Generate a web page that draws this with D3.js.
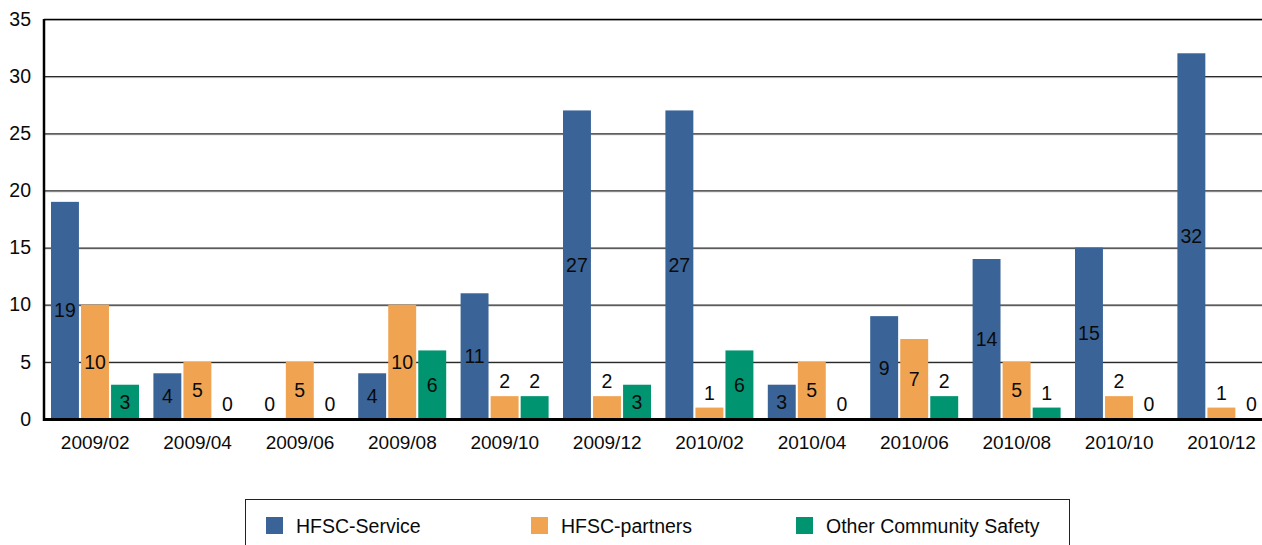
<!DOCTYPE html>
<html>
<head>
<meta charset="utf-8">
<script src="https://cdn.jsdelivr.net/npm/d3@7"></script>
<style>
  body { margin: 0; background: #fff; }
  svg text { font-family: "Liberation Sans", Arial, sans-serif; fill: #0a0a0a; }
</style>
</head>
<body>
<svg id="chart" width="1262" height="545"></svg>
<script>
'use strict'

// data
const months = ['2009/02','2009/04','2009/06','2009/08','2009/10','2009/12','2010/02','2010/04','2010/06','2010/08','2010/10','2010/12']
const seriesNames = ['HFSC-Service','HFSC-partners','Other Community Safety']
const service = [19, 4, 0, 4, 11, 27, 27, 3, 9, 14, 15, 32]
const partners = [10, 5, 5, 10, 2, 2, 1, 5, 7, 5, 2, 1]
const otherSafety = [3, 0, 0, 6, 2, 3, 6, 0, 2, 1, 0, 0]
const yTicks = [0, 5, 10, 15, 20, 25, 30, 35]
const colors = ['#3a6497', '#f0a452', '#009570']

function draw(){
	let svg = d3.select('#chart')
	let left = 44, right = 44 + 12 * 102.4
	let top = 19, bottom = 419
	let fs = '19.5px'

	let x = d3.scaleBand().domain(months).range([left, right]).paddingInner(0).paddingOuter(0)
	let xs = d3.scaleBand().domain(seriesNames).range([7, 95]).paddingInner(0.07)
	let y = d3.scaleLinear().domain([0, 35]).range([bottom, top])

	let rows = months.map((m, i) => ({month: m, vals: [service[i], partners[i], otherSafety[i]]}))

	// gridlines (with the faint shadow line under each)
	let grid = svg.append('g')
	grid.selectAll('line.shadow')
		.data(yTicks.filter(d => d > 0))
		.join('line')
		.attr('x1', left).attr('x2', 1262)
		.attr('y1', d => y(d) + 1.5).attr('y2', d => y(d) + 1.5)
		.attr('stroke', '#d0d0d0').attr('stroke-width', 1)
	grid.selectAll('line.main')
		.data(yTicks.filter(d => d > 0))
		.join('line')
		.attr('x1', left).attr('x2', 1262)
		.attr('y1', d => y(d) + 0.5).attr('y2', d => y(d) + 0.5)
		.attr('stroke', d => d == 35 ? '#000' : '#2a2a2a').attr('stroke-width', d => d == 35 ? 1.5 : 1.2)

	// bars
	let groups = svg.append('g').selectAll('g')
		.data(rows)
		.join('g')
		.attr('transform', d => `translate(${x(d.month)},0)`)

	groups.selectAll('rect')
		.data(d => d.vals.map((v, k) => ({v, k})))
		.join('rect')
		.attr('x', d => xs(seriesNames[d.k]))
		.attr('width', xs.bandwidth())
		.attr('y', d => y(d.v))
		.attr('height', d => bottom - y(d.v))
		.attr('fill', d => colors[d.k])

	groups.selectAll('text')
		.data(d => d.vals.map((v, k) => ({v, k})))
		.join('text')
		.attr('x', d => xs(seriesNames[d.k]) + xs.bandwidth() / 2)
		.attr('y', d => {
			let h = bottom - y(d.v)
			return h > 28 ? y(d.v) + h / 2 : y(d.v) - 15
		})
		.attr('dy', '0.36em')
		.attr('text-anchor', 'middle')
		.style('font-size', fs)
		.text(d => d.v)

	// axes
	let yAxis = d3.axisLeft(y).tickValues(yTicks).tickSize(0).tickPadding(13)
	let ga = svg.append('g').attr('transform', `translate(${left},0)`).call(yAxis)
	ga.select('.domain').remove()
	ga.selectAll('text').style('font-size', fs).style('font-family', '"Liberation Sans", Arial, sans-serif').attr('fill', '#0a0a0a')

	let xAxis = d3.axisBottom(x).tickSize(0).tickPadding(17)
	let gx = svg.append('g').attr('transform', `translate(0,${bottom})`).call(xAxis)
	gx.select('.domain').remove()
	gx.selectAll('text').style('font-size', '19px').style('font-family', '"Liberation Sans", Arial, sans-serif').attr('fill', '#0a0a0a')

	svg.append('line').attr('x1', left).attr('x2', 1262).attr('y1', bottom + 0.5).attr('y2', bottom + 0.5)
		.attr('stroke', '#000').attr('stroke-width', 3)
	svg.append('line').attr('x1', left).attr('x2', left).attr('y1', top).attr('y2', bottom + 2)
		.attr('stroke', '#000').attr('stroke-width', 2.5)

	// legend
	let lg = svg.append('g')
	lg.append('rect').attr('x', 245.5).attr('y', 499.5).attr('width', 824).attr('height', 60)
		.attr('fill', 'none').attr('stroke', '#222').attr('stroke-width', 1)
	let legendX = [266, 531, 796]
	let items = lg.selectAll('g.item')
		.data(seriesNames)
		.join('g')
		.attr('transform', (d, i) => `translate(${legendX[i]},517)`)
	items.append('rect').attr('width', 17).attr('height', 17).attr('fill', (d, i) => colors[i])
	items.append('text').attr('x', 30).attr('y', 8.5).attr('dy', '0.36em')
		.style('font-size', fs).text(d => d)
}

draw()
</script>
</body>
</html>
